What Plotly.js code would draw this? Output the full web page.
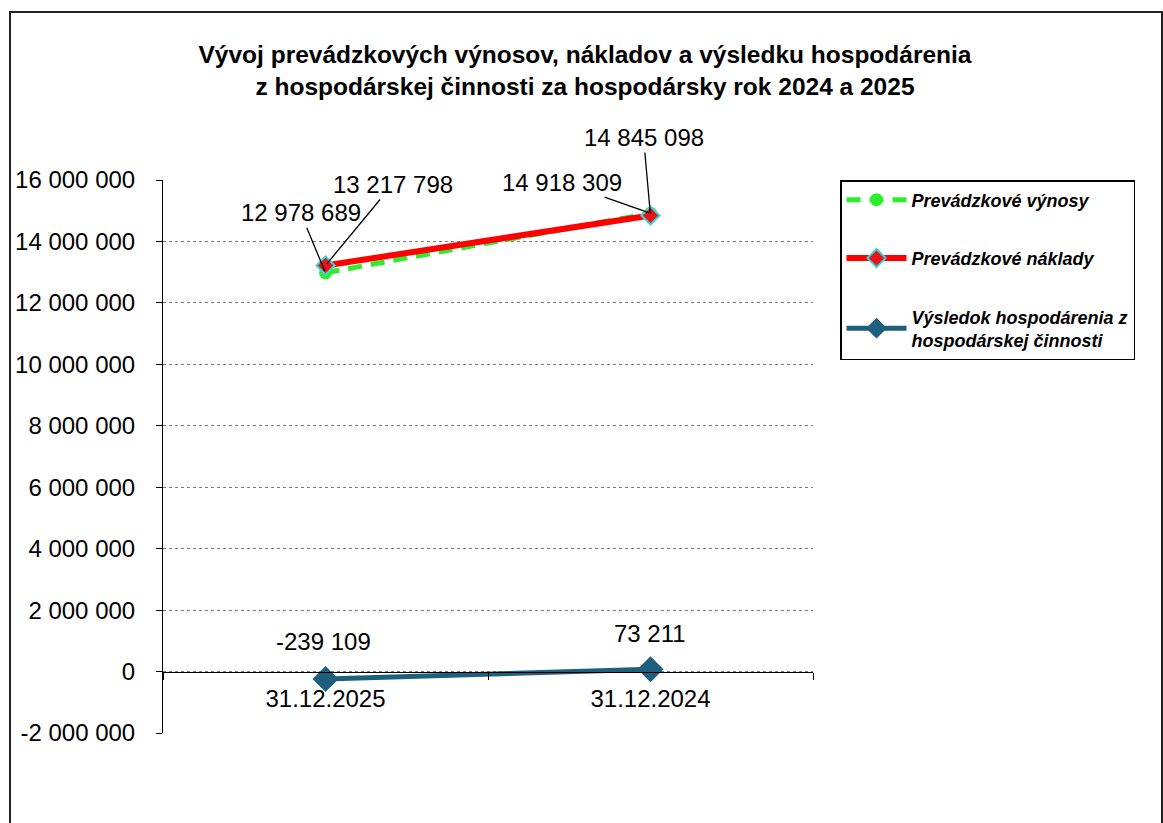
<!DOCTYPE html>
<html>
<head>
<meta charset="utf-8">
<script src="https://cdn.plot.ly/plotly-3.0.1.min.js"></script>
<style>
  html, body { margin: 0; padding: 0; background: #fff; }
  #wrap { position: relative; width: 1163px; height: 823px; overflow: hidden; }
  #chart { width: 1163px; height: 823px; }
  #frame { position: absolute; left: 9px; top: 11px; width: 1150px; height: 900px;
           border: 2px solid #222; pointer-events: none; }
</style>
</head>
<body>
<div id="wrap"><div id="chart"></div><div id="frame"></div></div>
<script>
// ---- data ----
const categories = ['31.12.2025', '31.12.2024'];
const vynosy   = [12978689, 14918309];   // Prevádzkové výnosy
const naklady  = [13217798, 14845098];   // Prevádzkové náklady
const vysledok = [-239109, 73211];       // Výsledok hospodárenia
const seriesNames = ['Prevádzkové výnosy', 'Prevádzkové náklady', 'Výsledok hospodárenia z<br>hospodárskej činnosti'];
const yTickVals = [-2000000, 0, 2000000, 4000000, 6000000, 8000000, 10000000, 12000000, 14000000, 16000000];
const titleText = 'Vývoj prevádzkových výnosov, nákladov a výsledku hospodárenia<br>z hospodárskej činnosti za hospodársky rok 2024 a 2025';

// ---- formatting helper ----
function fmt(v) {
  const s = Math.abs(v).toString().replace(/\B(?=(\d{3})+(?!\d))/g, ' ');
  return (v < 0 ? '-' : '') + s;
}

const FONT = 'Arial, "Liberation Sans", sans-serif';

const traces = [
  { x: categories, y: vynosy, name: seriesNames[0], type: 'scatter', mode: 'lines+markers',
    legendgroup: 'a',
    line: { color: '#2BEF2B', width: 5, dash: '14px,9px' },
    marker: { symbol: 'circle', size: 13, color: '#2BEF2B' } },
  { x: categories, y: naklady, name: seriesNames[1], type: 'scatter', mode: 'lines+markers',
    legendgroup: 'b',
    line: { color: '#FF0000', width: 6 },
    marker: { symbol: 'diamond', size: 14, color: '#E8141A', line: { color: '#3CD6D6', width: 2 } } },
  { x: categories, y: vysledok, name: seriesNames[2], type: 'scatter', mode: 'lines+markers',
    legendgroup: 'c',
    line: { color: '#1F5F7E', width: 5 },
    marker: { symbol: 'diamond', size: 20, color: '#1F5F7E' } }
];

// label offsets (pixels) relative to each data point
const labelOffsets = {
  vynosy:  [[-25, -60], [-89, -31]],
  naklady: [[67, -81], [-7, -78]],
  vysledok: [[-2, -37], [-1, -36]]
};

const annotations = [];
function addLabels(values, offs, leader) {
  values.forEach((v, i) => {
    annotations.push({
      x: categories[i], y: v, xref: 'x', yref: 'y',
      text: fmt(v), showarrow: true,
      arrowhead: 0, arrowwidth: leader ? 1.3 : 0.01, arrowcolor: leader ? '#000' : 'rgba(0,0,0,0)',
      standoff: 2, startstandoff: 0,
      ax: offs[i][0], ay: offs[i][1],
      font: { family: FONT, size: 24, color: '#000' }
    });
  });
}
addLabels(vynosy, labelOffsets.vynosy, true);
addLabels(naklady, labelOffsets.naklady, true);
addLabels(vysledok, labelOffsets.vysledok, false);

const yMin = -2000000, yMax = 16000000;
const zeroFrac = (0 - yMin) / (yMax - yMin);

const layout = {
  width: 1163, height: 823,
  margin: { l: 163, r: 350, t: 180, b: 90 },
  paper_bgcolor: '#fff', plot_bgcolor: '#fff',
  separators: ', ',
  font: { family: FONT, color: '#000' },
  showlegend: true,
  title: { text: titleText, x: 0.503, xref: 'container', xanchor: 'center',
           y: 1 - 63 / 823, yref: 'container', yanchor: 'top',
           font: { family: FONT, size: 24.5, color: '#000', weight: 'bold' } },
  xaxis: {
    type: 'category', range: [-0.5, 1.5],
    anchor: 'free', position: zeroFrac,
    showline: true, linecolor: '#000', linewidth: 1,
    ticks: 'outside', tickson: 'boundaries', ticklen: 7, tickcolor: '#000',
    showgrid: false, zeroline: false,
    tickfont: { family: FONT, size: 24, color: '#000' },
    ticklabelstandoff: 6
  },
  yaxis: {
    range: [yMin, yMax], tickvals: yTickVals, ticktext: yTickVals.map(fmt),
    showline: true, linecolor: '#000', linewidth: 1,
    ticks: 'outside', ticklen: 6, tickcolor: '#000',
    showgrid: true, gridcolor: '#7a7a7a', gridwidth: 1, griddash: 'dot',
    zeroline: false,
    tickfont: { family: FONT, size: 24, color: '#000' },
    ticklabelstandoff: 16
  },
  legend: {
    x: (840 - 163) / 650, y: 1.0, xanchor: 'left', yanchor: 'top',
    bordercolor: '#000', borderwidth: 1.5, bgcolor: '#fff',
    traceorder: 'grouped', tracegroupgap: 32,
    font: { family: FONT, size: 18, color: '#000', style: 'italic', weight: 'bold' },
    itemwidth: 60
  },
  annotations: annotations
};

Plotly.newPlot('chart', traces, layout, { displayModeBar: false, staticPlot: true });
</script>
</body>
</html>
